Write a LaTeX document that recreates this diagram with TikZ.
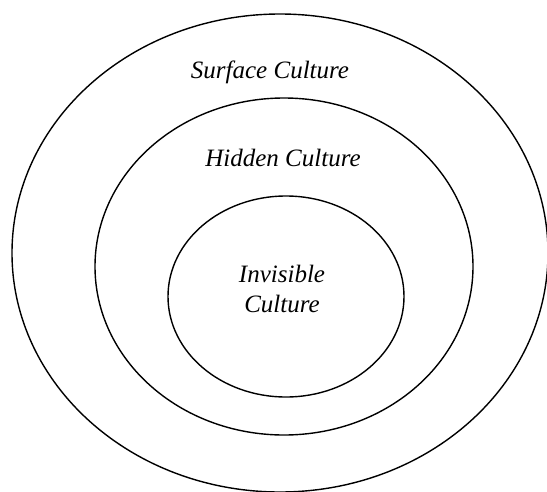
\documentclass[tikz,border=0pt]{standalone}
\usepackage{fontspec}
\setmainfont{Liberation Serif}[ItalicFont={Liberation Serif Italic}]
\newfontfamily\lblfont{Liberation Serif Italic}
\begin{document}
\begin{tikzpicture}[x=1pt,y=-1pt,
  ring/.style={line width=1.4pt, black},
  lbl/.style={font=\lblfont\fontsize{25}{30}\selectfont, anchor=base, inner sep=0pt}]
\useasboundingbox (0,0) rectangle (547,491);
\draw[ring] (280,253) ellipse [x radius=268, y radius=239];
\draw[ring] (284,266.5) ellipse [x radius=189, y radius=168.5];
\draw[ring] (286,296.5) ellipse [x radius=118, y radius=100.5];
\node[lbl] (surface) at (270,78) {Surface Culture};
\node[lbl] (hidden) at (283,166) {Hidden Culture};
\node[lbl] (invis) at (282,282) {Invisible};
\node[lbl] (cult) at (282,312) {Culture};
\end{tikzpicture}
\end{document}
